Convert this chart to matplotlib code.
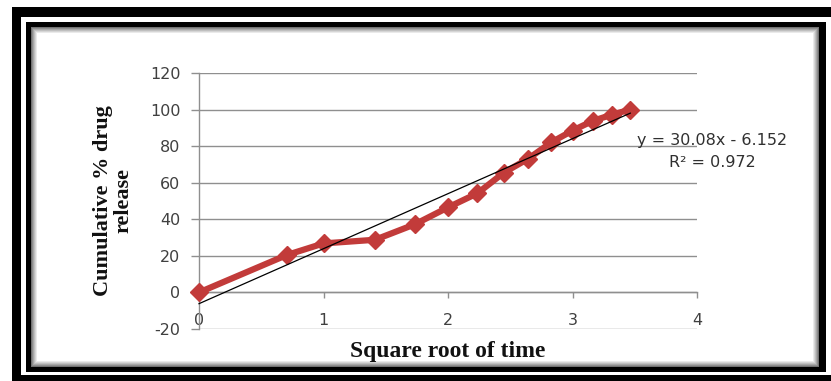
import matplotlib
matplotlib.use("Agg")
import matplotlib.pyplot as plt
from matplotlib.patches import Rectangle

plt.rcParams["axes.unicode_minus"] = False

# ---- data ----
sqrt_time = [0, 0.707, 1.0, 1.414, 1.732, 2.0, 2.236, 2.449, 2.646, 2.828, 3.0, 3.162, 3.317, 3.464]
release = [0, 20.5, 26.8, 28.8, 37.2, 46.5, 54.2, 65.5, 73.2, 82.0, 88.5, 93.8, 97.2, 100.0]
trend_slope = 30.08
trend_intercept = -6.152
r_squared = 0.972
x_ticks = [0, 1, 2, 3, 4]
y_ticks = [-20, 0, 20, 40, 60, 80, 100, 120]

W, H = 831, 381
fig = plt.figure(figsize=(W / 100, H / 100), dpi=100)
fig.patch.set_facecolor("white")

# ---- decorative frame (pixel coordinates) ----
bg = fig.add_axes([0, 0, 1, 1], zorder=0)
bg.set_xlim(0, W)
bg.set_ylim(H, 0)
bg.axis("off")
bg.add_patch(Rectangle((12, 7), 900, 900, facecolor="black", edgecolor="none"))
bg.add_patch(Rectangle((21, 17), 900, 358, facecolor="white", edgecolor="none"))
bg.add_patch(Rectangle((26, 22), 800, 350, facecolor="black", edgecolor="none"))
# inner shadow gradient
steps = 7
for i in range(steps):
    g = 0.3 + 0.7 * ((i + 1) / steps) ** 0.8
    bg.add_patch(Rectangle((31 + i, 27 + i), 788 - 2 * i, 340 - 2 * i,
                           facecolor=(g, g, g), edgecolor="none"))

# ---- chart ----
left, right = 199 / W, 697 / W
bottom, top = 1 - 329 / H, 1 - 73 / H
ax = fig.add_axes([left, bottom, right - left, top - bottom], zorder=1)
ax.set_facecolor("none")
ax.set_xlim(0, 4)
ax.set_ylim(-20, 120)

grid_c = "#8f8f8f"
ax.set_yticks(y_ticks)
ax.set_xticks(x_ticks)
ax.yaxis.grid(True, color=grid_c, linewidth=1.0)
ax.set_axisbelow(True)
for s in ["top", "right"]:
    ax.spines[s].set_visible(False)
ax.spines["left"].set_color(grid_c)
ax.spines["left"].set_linewidth(1.0)
ax.spines["bottom"].set_position(("data", 0))
ax.spines["bottom"].set_color(grid_c)
ax.spines["bottom"].set_linewidth(1.0)

ax.tick_params(axis="y", direction="out", length=5.5, width=1.0, color=grid_c,
               pad=8, labelcolor="#404040", labelsize=11.5)
ax.tick_params(axis="x", direction="out", length=4.5, width=1.0, color=grid_c,
               pad=10, labelcolor="#404040", labelsize=11.5)
for lab in ax.get_xticklabels() + ax.get_yticklabels():
    lab.set_family("DejaVu Sans")

red = "#C23B3A"
ax.plot(sqrt_time, release, color=red, linewidth=4.5, marker="D", markersize=9,
        markeredgecolor=red, markerfacecolor=red, zorder=3, clip_on=False)

x0, x1 = sqrt_time[0], sqrt_time[-1]
ax.plot([x0, x1], [trend_slope * x0 + trend_intercept, trend_slope * x1 + trend_intercept],
        color="black", linewidth=0.9, zorder=4, clip_on=False)

ax.text(4.12, 83, f"y = {trend_slope:.2f}x - {abs(trend_intercept):.3f}", ha="center",
        va="center", fontsize=11.5, family="DejaVu Sans", color="#303030", zorder=5)
ax.text(4.12, 71, f"R\u00b2 = {r_squared:.3f}", ha="center", va="center",
        fontsize=11.5, family="DejaVu Sans", color="#303030", zorder=5)

serif = "Liberation Serif"
fig.text(448 / W, 1 - 352 / H, "Square root of time", ha="center", va="center",
         family=serif, fontweight="bold", fontsize=17, color="#111111", zorder=6)
fig.text(113 / W, 1 - 201 / H, "Cumulative % drug\nrelease", ha="center", va="center",
         rotation=90, multialignment="center", linespacing=1.05,
         family=serif, fontweight="bold", fontsize=16, color="#111111", zorder=6)

fig.savefig("out.png", dpi=100)
